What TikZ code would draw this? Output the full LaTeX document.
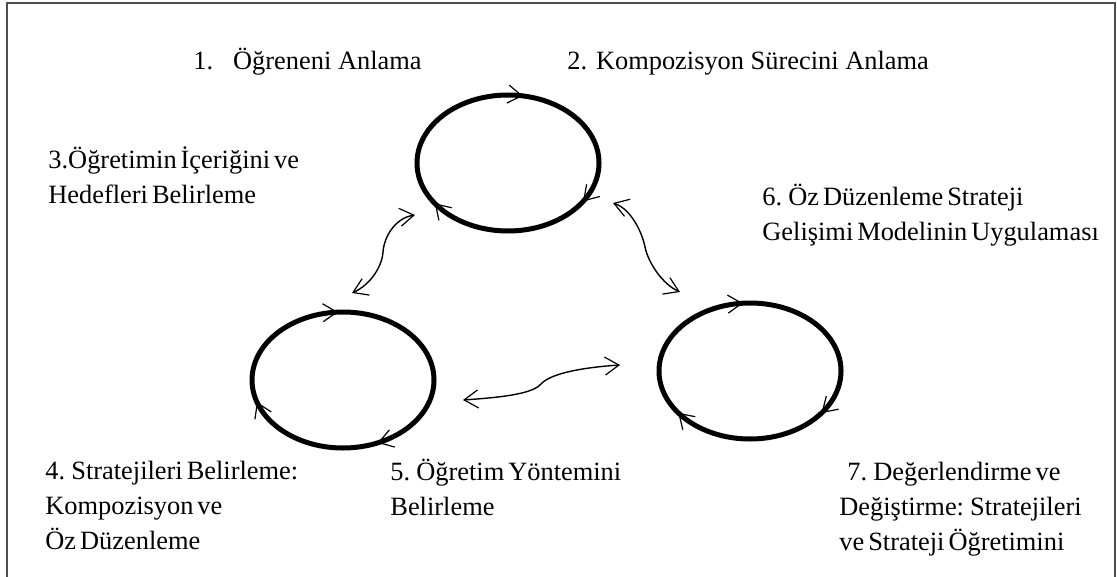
\documentclass[tikz,border=0pt]{standalone}
\usepackage{fontspec}
\setmainfont{Liberation Serif}
\usetikzlibrary{shapes.geometric,arrows.meta,decorations.markings}

\newcommand\tightspaces{\spaceskip=0.15em plus 0.05em\relax}
\tikzset{barb/.tip={Straight Barb[length=7pt,width=9pt,line width=0.6pt]}}

\begin{document}
\begin{tikzpicture}[x=0.5pt,y=-0.5pt,
    cycle/.style n args={3}{draw, ellipse, line width=2.5pt,
      minimum width=91pt, minimum height=68pt,
      postaction={decorate},
      decoration={markings,
        mark=at position #1 with {\arrowreversed{barb}},
        mark=at position #2 with {\arrowreversed{barb}},
        mark=at position #3 with {\arrowreversed{barb}}}},
    link/.style={line width=0.7pt, {barb}-{barb}},
    txt/.style={anchor=west, align=left, inner sep=0pt,
      font=\fontsize{13.2}{17.5}\selectfont},
    tight/.style={txt, execute at begin node=\tightspaces},
    frame/.style={draw=black!70, line width=1pt}]

      \useasboundingbox (0,0) rectangle (1117,577);
      \draw[frame] (7,3) rectangle (1115,600);

      \node[cycle={0.22}{0.59}{0.915}] (cA) at (508,163) {};
      \node[cycle={0.26}{0.545}{0.82}] (cB) at (343,380) {};
      \node[cycle={0.264}{0.594}{0.905}] (cC) at (750,371) {};

      \draw[link] ([shift={(-93,52)}]cA.center) .. controls +(-20,3) and +(1,-15) .. ++(-32,37)
                  .. controls +(-1,15) and +(18,-8) .. ([shift={(9,-87)}]cB.center);
      \draw[link] ([shift={(105,40)}]cA.center) .. controls +(18,6) and +(-3,-15) .. ++(32,44)
                  .. controls +(3,15) and +(-18,-8) .. ([shift={(-70,-79)}]cC.center);
      \draw[link] ([shift={(120,20)}]cB.center) .. controls +(45,-3) and +(-8,9) .. ++(78,-16)
                  .. controls +(8,-9) and +(-45,3) .. ([shift={(-130,-6)}]cC.center);

      \node[txt, anchor=base west] (t1) at (193,70) {1.\hspace{10pt}Öğreneni Anlama};
      \node[txt, anchor=base west] (t2) at (567,70) {2. Kompozisyon Sürecini Anlama};
      \node[tight] (t3) at (48,175) {3.Öğretimin İçeriğini ve\\Hedefleri Belirleme};
      \node[tight] (t6) at (762,215) {6. Öz Düzenleme Strateji\\Gelişimi Modelinin Uygulaması};
      \node[tight] (t4) at (45,505) {4. Stratejileri Belirleme:\\Kompozisyon ve\\Öz Düzenleme};
      \node[tight] (t5) at (390,487) {5. Öğretim Yöntemini\\Belirleme};
      \node[tight] (t7) at (839,509) {\hspace*{4pt}7. Değerlendirme ve\\Değiştirme: Stratejileri\\ve Strateji Öğretimini};
    \end{tikzpicture}
\end{document}
